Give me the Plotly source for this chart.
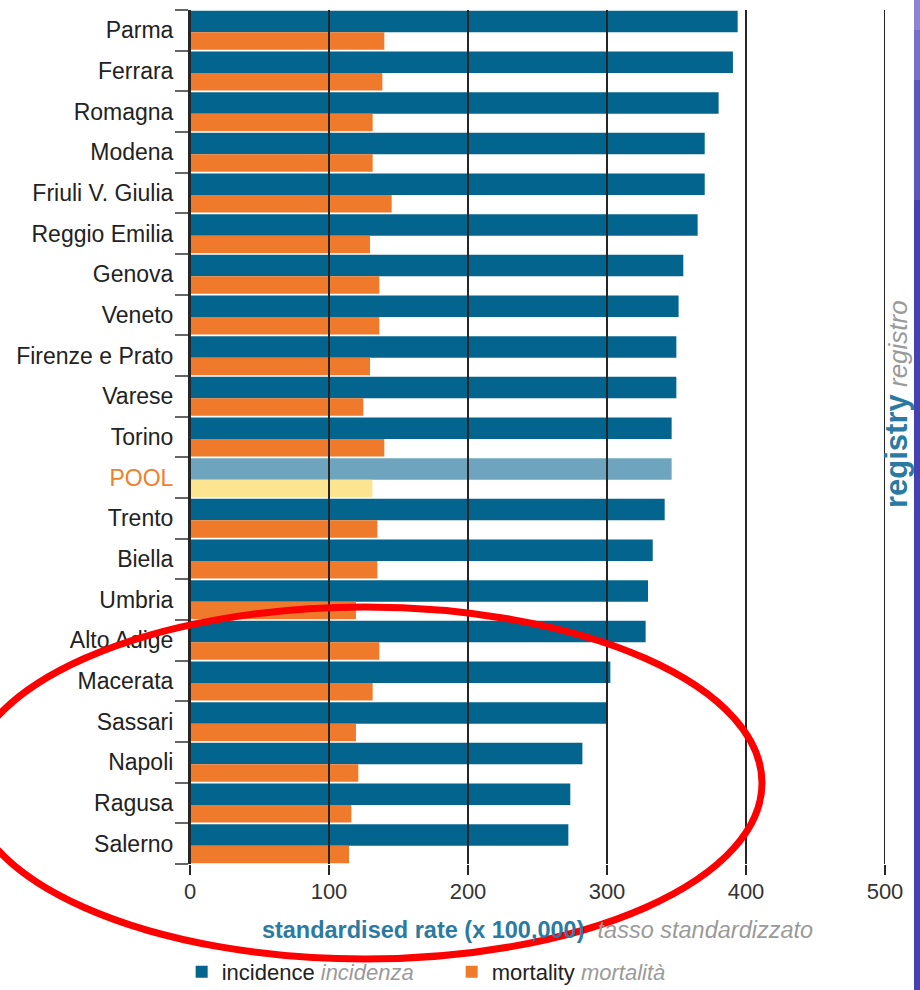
import plotly.graph_objects as go

# ---- data ----
registries = ["Parma", "Ferrara", "Romagna", "Modena", "Friuli V. Giulia", "Reggio Emilia",
              "Genova", "Veneto", "Firenze e Prato", "Varese", "Torino", "POOL", "Trento",
              "Biella", "Umbria", "Alto Adige", "Macerata", "Sassari", "Napoli", "Ragusa", "Salerno"]
incidence = [394.0, 390.6, 380.3, 370.3, 370.3, 365.2, 354.9, 351.5, 349.9, 349.9, 346.5,
             346.5, 341.5, 332.9, 329.5, 327.8, 302.4, 300.0, 282.3, 273.6, 272.2]
mortality = [139.8, 138.4, 131.4, 131.4, 145.1, 129.5, 136.2, 136.2, 129.5, 124.7, 139.8,
             131.2, 134.8, 134.8, 119.4, 136.2, 131.4, 119.4, 121.1, 116.1, 114.4]
x_ticks = [0, 100, 200, 300, 400, 500]
pool_name = "POOL"

# ---- styles ----
BLUE = "#03648e"
ORANGE = "#ef7a2b"
POOL_BLUE = "#6fa4be"
POOL_YELLOW = "#fde490"
POOL_LABEL = "#f0802e"
TITLE_BLUE = "#2b7aa1"
GREY_IT = "#9a9a9a"
FONT = "Liberation Sans, Arial, sans-serif"

inc_colors = [POOL_BLUE if r == pool_name else BLUE for r in registries]
mor_colors = [POOL_YELLOW if r == pool_name else ORANGE for r in registries]
tick_text = [f"<span style='color:{POOL_LABEL}'>{r}</span>" if r == pool_name else r
             for r in registries]

fig = go.Figure()
fig.add_trace(go.Bar(
    y=registries, x=incidence, orientation="h",
    name=f"incidence <i><span style='color:{GREY_IT}'>incidenza</span></i>",
    marker=dict(color=inc_colors, line=dict(width=0)),
    offset=-0.48, width=0.53, hoverinfo="x+y",
))
fig.add_trace(go.Bar(
    y=registries, x=mortality, orientation="h",
    name=f"mortality <i><span style='color:{GREY_IT}'>mortalità</span></i>",
    marker=dict(color=mor_colors, line=dict(width=0)),
    offset=0.05, width=0.43, hoverinfo="x+y",
))

shapes = []
# vertical grid lines drawn above the bars
for t in x_ticks:
    shapes.append(dict(type="line", xref="x", yref="paper", x0=t, x1=t, y0=0, y1=1,
                       line=dict(color="#262626", width=2), layer="above"))

# slide background strip on the right
L, W, T, B = 190.0, 695.0, 10.0, 854.0
def px_x(p):
    return (p - L) / W
def px_y(p):
    return (T + B - p) / B
strip = [(0, 30, "#8a86d4"), (30, 80, "#7570c9"), (80, 200, "#5b56bd"), (200, 990, "#4641b1")]
for y0, y1, c in strip:
    shapes.append(dict(type="rect", xref="paper", yref="paper",
                       x0=px_x(914), x1=px_x(930), y0=px_y(y1), y1=px_y(y0),
                       fillcolor=c, line=dict(width=0), layer="above"))

# red highlight ellipse
shapes.append(dict(type="circle", xref="paper", yref="paper",
                   x0=px_x(-32), x1=px_x(762), y0=px_y(959), y1=px_y(607),
                   line=dict(color="#ff0000", width=7), layer="above"))

fig.update_layout(
    width=920, height=990,
    margin=dict(l=190, r=35, t=10, b=126, autoexpand=False),
    paper_bgcolor="white", plot_bgcolor="white",
    barmode="overlay",
    font=dict(family=FONT, color="#222222"),
    showlegend=True,
    legend=dict(orientation="h", x=-0.012, xanchor="left", y=px_y(972), yanchor="middle",
                font=dict(size=22, color="#222222"), entrywidth=225,
                bgcolor="rgba(0,0,0,0)"),
    shapes=shapes,
    annotations=[dict(
        text=(f"<b><span style='font-size:31px'>registry</span></b> "
              f"<i><span style='color:{GREY_IT}'>registro</span></i>"),
        xref="paper", yref="paper", x=px_x(897), y=px_y(404),
        xanchor="center", yanchor="middle", textangle=-90, showarrow=False,
        font=dict(size=26, color=TITLE_BLUE, family=FONT),
    )],
)
fig.update_xaxes(
    range=[0, 500], tickmode="array", tickvals=x_ticks, automargin=False,
    showgrid=False, zeroline=False, showline=False,
    ticks="outside", ticklen=10, tickwidth=2, tickcolor="#262626",
    tickfont=dict(size=22, color="#333333"), ticklabelstandoff=-2,
    title=dict(text=f"<b>standardised rate (x 100,000)</b>  <i><span style='color:{GREY_IT}'>tasso standardizzato</span></i>",
               font=dict(size=23.5, color=TITLE_BLUE), standoff=18),
)
fig.update_yaxes(
    type="category", autorange="reversed", automargin=False,
    tickmode="array", tickvals=registries, ticktext=tick_text,
    tickson="boundaries", ticks="outside", ticklen=13, tickwidth=2, tickcolor="#666666",
    ticklabelstandoff=10,
    showgrid=False, zeroline=False, showline=True, linecolor="#262626", linewidth=2,
    tickfont=dict(size=23, color="#222222"),
)

fig.write_html("out.html", config={"displayModeBar": False},
               post_script="document.body.style.margin='0';document.body.style.overflow='hidden';")
